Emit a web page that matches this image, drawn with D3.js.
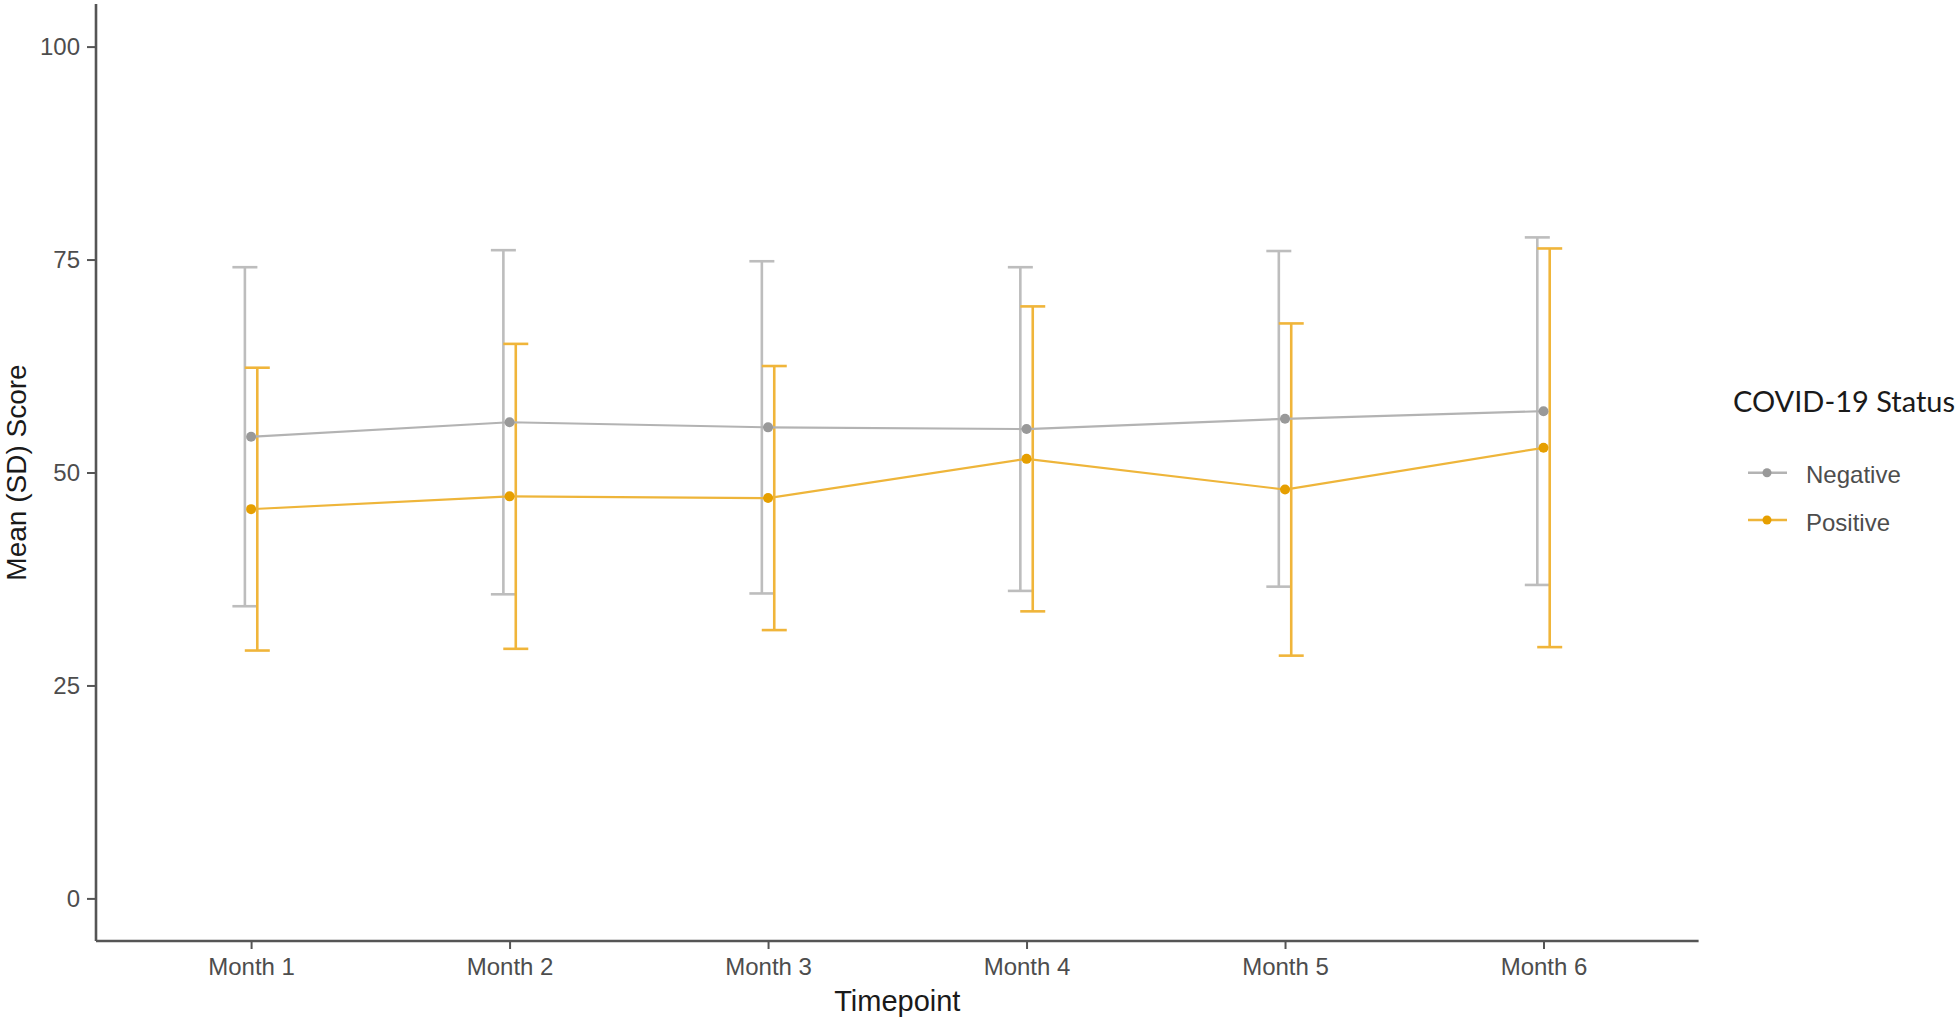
<!DOCTYPE html>
<html>
<head>
<meta charset="utf-8">
<script src="https://cdn.jsdelivr.net/npm/d3@7"></script>
<style>
  html, body { margin: 0; padding: 0; background: #ffffff; }
  svg { display: block; }
</style>
</head>
<body>
<svg id="chart" width="1959" height="1022"></svg>
<script>
// ---- Data ----
const months = ["Month 1", "Month 2", "Month 3", "Month 4", "Month 5", "Month 6"];
const negativeMean = [54.2, 55.9, 55.3, 55.1, 56.3, 57.2];
const negativeSD   = [19.9, 20.2, 19.5, 19.0, 19.7, 20.4];
const positiveMean = [45.7, 47.2, 47.0, 51.6, 48.0, 52.9];
const positiveSD   = [16.6, 17.9, 15.5, 17.9, 19.5, 23.4];
const yTicks = [0, 25, 50, 75, 100];
const seriesNames = ["Negative", "Positive"];

// ---- Layout ----
const svg = d3.select("#chart");
const plotLeft = 96, plotRight = 1698.6, plotTop = 4, plotBottom = 941;
const font = "'Liberation Sans', Arial, sans-serif";

const x = d3.scalePoint().domain(months).range([plotLeft, plotRight]).padding(0.6);
const y = d3.scaleLinear().domain([-5, 105]).range([plotBottom, plotTop]);

const series = [
  { name: seriesNames[0], mean: negativeMean, sd: negativeSD, point: "#999999", line: "#b3b3b3", bar: "#bdbdbd", dodge: -6.2 },
  { name: seriesNames[1], mean: positiveMean, sd: positiveSD, point: "#E69F00", line: "#eeb53a", bar: "#f0b53a", dodge: 6.2 }
];

// ---- Error bars ----
const capHalf = 12.5;
series.forEach(s => {
  const g = svg.append("g");
  months.forEach((m, i) => {
    const cx = x(m) + s.dodge;
    const hi = y(s.mean[i] + s.sd[i]);
    const lo = y(s.mean[i] - s.sd[i]);
    g.append("line").attr("x1", cx).attr("x2", cx).attr("y1", hi).attr("y2", lo)
      .attr("stroke", s.bar).attr("stroke-width", 2.6);
    [hi, lo].forEach(yy => {
      g.append("line").attr("x1", cx - capHalf).attr("x2", cx + capHalf).attr("y1", yy).attr("y2", yy)
        .attr("stroke", s.bar).attr("stroke-width", 2.6);
    });
  });
});

// ---- Lines & points ----
series.forEach(s => {
  const line = d3.line().x((d, i) => x(months[i])).y(d => y(d));
  svg.append("path").datum(s.mean).attr("d", line)
    .attr("fill", "none").attr("stroke", s.line).attr("stroke-width", 2.2);
  svg.append("g").selectAll("circle").data(s.mean).join("circle")
    .attr("cx", (d, i) => x(months[i])).attr("cy", d => y(d)).attr("r", 5)
    .attr("fill", s.point);
});

// ---- Axes ----
const yAxis = d3.axisLeft(y).tickValues(yTicks).tickSize(9).tickSizeOuter(0).tickPadding(7);
const gy = svg.append("g").attr("transform", `translate(${plotLeft},0)`).call(yAxis);
const xAxis = d3.axisBottom(x).tickSize(8).tickSizeOuter(0).tickPadding(9);
const gx = svg.append("g").attr("transform", `translate(0,${plotBottom})`).call(xAxis);

[gx, gy].forEach(g => {
  g.select(".domain").attr("stroke", "#555555").attr("stroke-width", 2.6);
  g.selectAll(".tick line").attr("stroke", "#555555").attr("stroke-width", 2);
  g.selectAll(".tick text").attr("fill", "#4d4d4d").style("font-family", font).style("font-size", "24px");
});
gy.select(".domain").attr("d", `M0,${plotTop}V${plotBottom}`);
gx.select(".domain").attr("d", `M${plotLeft},0H${plotRight}`);

// ---- Axis titles ----
svg.append("text").attr("x", (plotLeft + plotRight) / 2).attr("y", 1011)
  .attr("text-anchor", "middle").style("font-family", font).style("font-size", "29px")
  .attr("fill", "#1a1a1a").text("Timepoint");
svg.append("text").attr("transform", `translate(26,${(plotTop + plotBottom) / 2}) rotate(-90)`)
  .attr("text-anchor", "middle").style("font-family", font).style("font-size", "28px")
  .attr("fill", "#1a1a1a").text("Mean (SD) Score");

// ---- Legend ----
const lg = svg.append("g");
lg.append("text").attr("x", 1733).attr("y", 412)
  .style("font-family", "Lato, 'Open Sans', sans-serif").style("font-size", "29px")
  .attr("fill", "#1a1a1a").text("COVID-19 Status");
const legendY = [472.7, 520];
series.forEach((s, i) => {
  const yy = legendY[i];
  lg.append("line").attr("x1", 1748).attr("x2", 1787).attr("y1", yy).attr("y2", yy)
    .attr("stroke", s.line).attr("stroke-width", 2.4);
  lg.append("circle").attr("cx", 1767).attr("cy", yy).attr("r", 4.5).attr("fill", s.point);
  lg.append("text").attr("x", 1806).attr("y", yy + 10.5)
    .style("font-family", font).style("font-size", "24px").attr("fill", "#4d4d4d").text(s.name);
});
</script>
</body>
</html>
